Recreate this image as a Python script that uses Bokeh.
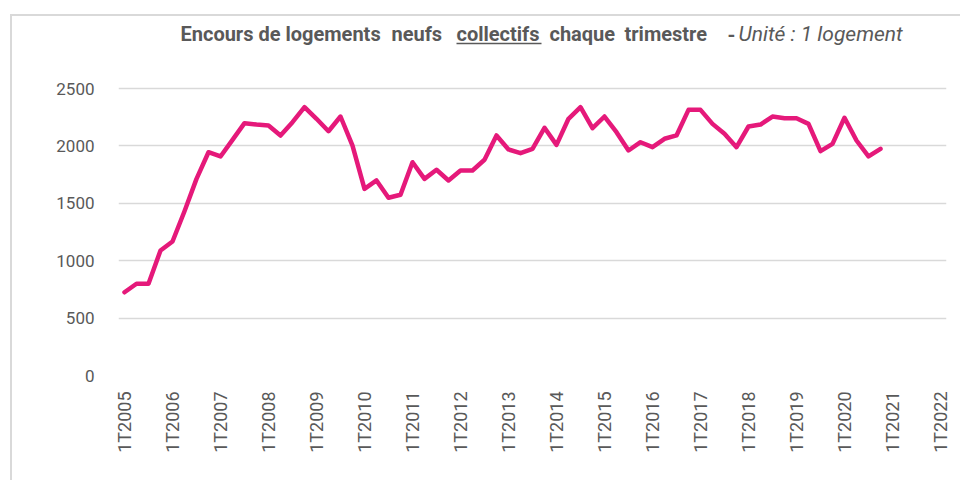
import math
from bokeh.plotting import figure
from bokeh.models import Range1d, FixedTicker, Label, Arrow, ColumnDataSource
from bokeh.embed import file_html
from bokeh.resources import INLINE

# Categories: quarters 1T2005 .. 1T2022
quarters = [f"{q}T{y}" for y in range(2005, 2023) for q in range(1, 5)][:69]

# Encours de logements neufs collectifs (2005Q1 .. 2020Q4)
values = [725, 799, 799, 1089, 1167, 1431, 1713, 1945,
          1908, 2053, 2198, 2186, 2178, 2090, 2207, 2337,
          2236, 2128, 2256, 2003, 1626, 1699, 1548, 1574,
          1858, 1713, 1792, 1699, 1786, 1786, 1879, 2091,
          1969, 1937, 1975, 2158, 2009, 2236, 2337, 2154,
          2256, 2119, 1960, 2032, 1989, 2062, 2091, 2314,
          2314, 2192, 2105, 1989, 2169, 2186, 2256, 2241,
          2241, 2192, 1954, 2018, 2245, 2047, 1908, 1975]

tick_labels = [f"1T{y}" for y in range(2005, 2023)]
y_ticks = [0, 500, 1000, 1500, 2000, 2500]

title_parts = ["Encours de logements", "neufs", "collectifs", "chaque", "trimestre", "-",
               "Unité : 1 logement"]
title_styles = ["bold", "bold", "bold", "bold", "bold", "bold", "italic"]
title_sizes = ["20px", "20px", "20px", "20px", "20px", "20px", "21px"]

OX, OY = 12, 16              # canvas origin on the page (after CSS margin + border)
W, H = 950, 466
FL, FR, FB = 106, 934, 359   # frame left / right / bottom in canvas pixels
TOP_TICK_Y = 88 - OY         # canvas y of the highest gridline
# frame spans the full canvas height so the title (drawn inside it) is not clipped
y_end = y_ticks[-1] * FB / (FB - TOP_TICK_Y)

p = figure(width=W, height=H, output_backend="svg", toolbar_location=None,
           x_range=Range1d(-0.5, len(quarters) - 0.5), y_range=Range1d(0, y_end),
           min_border_left=FL, min_border_right=W - FR, min_border_top=0,
           min_border_bottom=H - FB)
p.styles = {"border-top": "2px solid #d9d9d9", "border-left": "2px solid #d9d9d9",
            "margin-left": "10px", "margin-top": "14px"}
p.outline_line_color = None

src = ColumnDataSource(dict(x=list(range(len(values))), y=values, q=quarters[:len(values)]))
p.line("x", "y", source=src, line_color="#e5197a", line_width=4.5, line_join="round", line_cap="round")

tick_idx = [quarters.index(tl) for tl in tick_labels if tl in quarters]
p.xaxis.ticker = FixedTicker(ticks=tick_idx)
p.xaxis.major_label_overrides = {i: quarters[i] for i in tick_idx}
p.xaxis.major_label_orientation = math.pi / 2
p.xaxis.major_label_standoff = 10
p.yaxis.ticker = FixedTicker(ticks=y_ticks)
p.yaxis.major_label_standoff = 18
for ax in (p.xaxis, p.yaxis):
    ax.axis_line_color = None
    ax.major_tick_line_color = None
    ax.minor_tick_line_color = None
    ax.major_label_text_font = "Roboto"
    ax.major_label_text_color = "#595959"
p.yaxis.major_label_text_font_size = "17px"
p.xaxis.major_label_text_font_size = "18px"
p.xgrid.grid_line_color = None
p.ygrid.grid_line_color = "#d9d9d9"
p.ygrid.grid_line_width = 1.5


def fx(px):  # page x -> frame-relative screen x
    return px - OX - FL


def fy(py):  # page y (from top) -> frame-relative screen y (from bottom)
    return FB - (py - OY)


title_x = [180, 391, 456, 549, 624, 727, 738]
for txt, x, style, size in zip(title_parts, title_x, title_styles, title_sizes):
    p.add_layout(Label(x=fx(x), y=fy(33.5), x_units="screen", y_units="screen", text=txt,
                       text_font="Roboto", text_font_size=size, text_font_style=style,
                       text_color="#595959", text_align="left", text_baseline="middle"))
p.add_layout(Arrow(start=None, end=None, x_start=fx(456), y_start=fy(43),
                   x_end=fx(541), y_end=fy(43), start_units="screen", end_units="screen",
                   line_color="#595959", line_width=1.5))

open("out.html", "w").write(file_html(p, INLINE))
